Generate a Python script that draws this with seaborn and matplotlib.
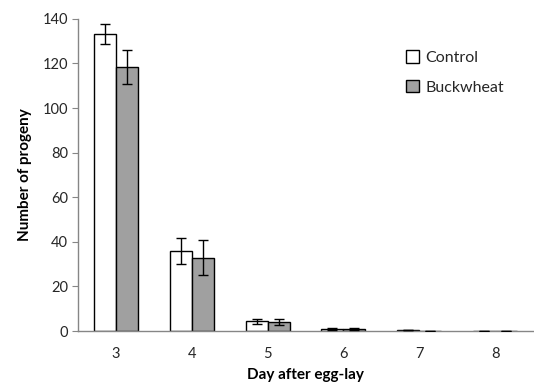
import matplotlib
matplotlib.use("Agg")
import matplotlib.pyplot as plt
import seaborn as sns
import pandas as pd
import numpy as np

days = ["3", "4", "5", "6", "7", "8"]
control = [133.3, 36.0, 4.5, 1.0, 0.5, 0.2]
control_err = [4.5, 5.8, 1.1, 0.3, 0.2, 0.05]
buckwheat = [118.5, 33.0, 4.0, 1.0, 0.2, 0.2]
buckwheat_err = [7.5, 7.8, 1.3, 0.3, 0.05, 0.05]
groups = ["Control", "Buckwheat"]

df = pd.DataFrame({
    "day": days * 2,
    "value": control + buckwheat,
    "err": control_err + buckwheat_err,
    "group": [groups[0]] * len(days) + [groups[1]] * len(days),
})

sns.set_style("white")
plt.rcParams["font.family"] = ["Lato", "DejaVu Sans"]
plt.rcParams["text.color"] = "#262626"

fig = plt.figure(figsize=(5.34, 3.85), dpi=100)
ax = fig.add_axes([0.146, 0.140, 0.852, 0.811])

sns.barplot(data=df, x="day", y="value", hue="group", order=days, hue_order=groups,
            palette=["white", "#a0a0a0"], edgecolor="black", linewidth=1.0,
            width=0.58, errorbar=None, ax=ax)

# error bars at bar centres
for container, g in zip(ax.containers, groups):
    sub = df[df.group == g].set_index("day").loc[days]
    xs = [p.get_x() + p.get_width() / 2 for p in container.patches]
    ax.errorbar(xs, sub["value"].values, yerr=sub["err"].values, fmt="none",
                ecolor="black", elinewidth=1.0, capsize=3.5, capthick=1.0, zorder=5)

ax.set_ylim(0, 140)
ax.set_yticks(np.arange(0, 141, 20))
ax.set_xlim(-0.5, len(days) - 0.5)
ax.set_xlabel("Day after egg-lay", fontsize=11, fontweight="bold", labelpad=5,
              color="black")
ax.set_ylabel("Number of progeny", fontsize=11, fontweight="bold", labelpad=8,
              color="black")
ax.tick_params(axis="y", which="both", left=True, length=4, color="#868686",
               labelsize=10.5, pad=3, labelcolor="#262626")
ax.tick_params(axis="x", bottom=False, labelsize=10.5, pad=8, labelcolor="#262626")
for s in ["top", "right"]:
    ax.spines[s].set_visible(False)
for s in ["left", "bottom"]:
    ax.spines[s].set_color("#868686")
    ax.spines[s].set_linewidth(1.0)

leg = ax.legend(loc="upper left", bbox_to_anchor=(0.69, 0.945), frameon=False,
                fontsize=11.5, handlelength=0.8, handleheight=0.8, handletextpad=0.4,
                labelspacing=0.95)

fig.savefig("out.png", dpi=100)
